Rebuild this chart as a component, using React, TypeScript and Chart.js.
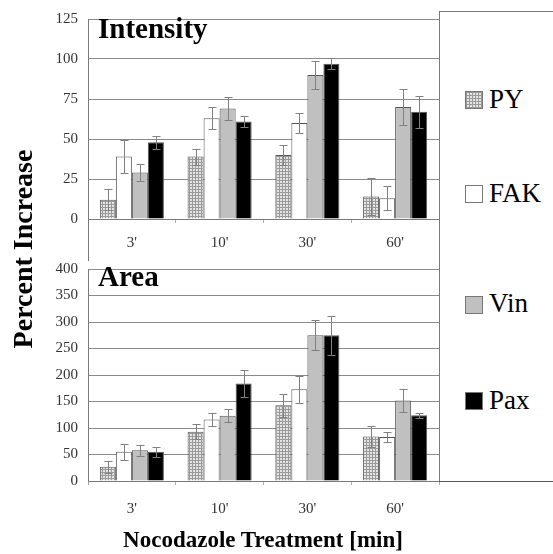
import React, { useEffect, useRef } from "react";
import { Chart, registerables } from "chart.js";

Chart.register(...registerables);

const categories = ["3'", "10'", "30'", "60'"];
const seriesNames = ["PY", "FAK", "Vin", "Pax"];

const intensityPY = [12, 39, 40, 14];
const intensityFAK = [39, 63, 60, 13];
const intensityVin = [29, 69, 90, 70];
const intensityPax = [48, 61, 97, 67];
const intensityPYErr = [6.5, 5, 6, 11.5];
const intensityFAKErr = [10.5, 7, 6, 7.5];
const intensityVinErr = [5.5, 7, 8.5, 11.5];
const intensityPaxErr = [4, 3.5, 3.5, 10];

const areaPY = [27, 93, 143, 84];
const areaFAK = [55, 116, 173, 83];
const areaVin = [58, 123, 275, 152];
const areaPax = [55, 184, 275, 124];
const areaPYErr = [11, 14, 22, 20];
const areaFAKErr = [15, 13, 25, 10];
const areaVinErr = [10, 12, 28, 22];
const areaPaxErr = [9.5, 26, 37, 5];

const intensityMax = 125;
const intensityStep = 25;
const areaMax = 400;
const areaStep = 50;

const SERIF = "'Liberation Serif', 'Times New Roman', Tinos, serif";
const LINE = "#7a7a7a";

function makePattern(): CanvasPattern | string {
  const c = document.createElement("canvas");
  c.width = 3;
  c.height = 3;
  const g = c.getContext("2d");
  if (!g) return "#cccccc";
  g.fillStyle = "#e4e4e4";
  g.fillRect(0, 0, 3, 3);
  g.fillStyle = "#9a9a9a";
  g.fillRect(0, 0, 3, 1);
  g.fillRect(0, 0, 1, 3);
  return g.createPattern(c, "repeat") || "#cccccc";
}

const errorBars = {
  id: "errorBars",
  afterDatasetsDraw(chart: any) {
    const ctx = chart.ctx;
    const yScale = chart.scales.y;
    ctx.save();
    ctx.strokeStyle = "#808080";
    ctx.lineWidth = 1;
    chart.data.datasets.forEach((ds: any, di: number) => {
      const meta = chart.getDatasetMeta(di);
      meta.data.forEach((bar: any, i: number) => {
        const v = ds.data[i];
        const e = ds.errors[i];
        const x = Math.round(bar.x) + 0.5;
        const yTop = Math.round(yScale.getPixelForValue(v + e)) + 0.5;
        const yBot = Math.round(yScale.getPixelForValue(Math.max(0, v - e))) + 0.5;
        ctx.beginPath();
        ctx.moveTo(x, yTop);
        ctx.lineTo(x, yBot);
        ctx.moveTo(x - 4, yTop);
        ctx.lineTo(x + 4, yTop);
        ctx.moveTo(x - 4, yBot);
        ctx.lineTo(x + 4, yBot);
        ctx.stroke();
      });
    });
    ctx.restore();
  },
};

function buildConfig(
  values: number[][],
  errors: number[][],
  max: number,
  step: number,
  xAxisHeight: number,
  tickPad: number,
  pattern: CanvasPattern | string
): any {
  const fills = [pattern, "#ffffff", "#c0c0c0", "#000000"];
  return {
    type: "bar",
    data: {
      labels: categories,
      datasets: seriesNames.map((n, k) => ({
        label: n,
        data: values[k],
        errors: errors[k],
        backgroundColor: fills[k],
        borderColor: "#555555",
        borderWidth: 1,
        categoryPercentage: 0.73,
        barPercentage: 1,
      })),
    },
    options: {
      animation: false,
      responsive: false,
      maintainAspectRatio: false,
      layout: { padding: { top: 11, right: 6, left: 0, bottom: 0 } },
      plugins: { legend: { display: false }, tooltip: { enabled: false } },
      scales: {
        x: {
          grid: {
            drawOnChartArea: false,
            drawTicks: true,
            tickLength: 4,
            color: "#aaaaaa",
            offset: true,
          },
          border: { display: true, color: LINE },
          ticks: {
            font: { family: SERIF, size: 15 },
            color: "#333333",
            padding: tickPad,
          },
          afterFit: (s: any) => {
            s.height = xAxisHeight;
          },
        },
        y: {
          min: 0,
          max,
          ticks: {
            stepSize: step,
            font: { family: SERIF, size: 15 },
            color: "#333333",
            padding: 10,
          },
          grid: { color: "#8a8a8a", drawTicks: false },
          border: { display: true, color: LINE },
          afterFit: (s: any) => {
            s.width = 88;
          },
        },
      },
    },
    plugins: [errorBars],
  };
}

const abs = (s: React.CSSProperties): React.CSSProperties => ({ position: "absolute", ...s });

export default function App() {
  const topRef = useRef<HTMLCanvasElement>(null);
  const botRef = useRef<HTMLCanvasElement>(null);

  useEffect(() => {
    const pattern = makePattern();
    const c1 = new Chart(
      topRef.current as HTMLCanvasElement,
      buildConfig(
        [intensityPY, intensityFAK, intensityVin, intensityPax],
        [intensityPYErr, intensityFAKErr, intensityVinErr, intensityPaxErr],
        intensityMax,
        intensityStep,
        41,
        11,
        pattern
      )
    );
    const c2 = new Chart(
      botRef.current as HTMLCanvasElement,
      buildConfig(
        [areaPY, areaFAK, areaVin, areaPax],
        [areaPYErr, areaFAKErr, areaVinErr, areaPaxErr],
        areaMax,
        areaStep,
        73,
        15,
        pattern
      )
    );
    return () => {
      c1.destroy();
      c2.destroy();
    };
  }, []);

  const legendItems = [
    { name: "PY", cy: 99.5 },
    { name: "FAK", cy: 193.5 },
    { name: "Vin", cy: 304 },
    { name: "Pax", cy: 400.5 },
  ];
  const swatchStyles: React.CSSProperties[] = [
    {
      backgroundColor: "#e4e4e4",
      backgroundImage:
        "linear-gradient(#9a9a9a 1px, transparent 1px), linear-gradient(90deg, #9a9a9a 1px, transparent 1px)",
      backgroundSize: "3px 3px",
    },
    { backgroundColor: "#ffffff" },
    { backgroundColor: "#c0c0c0" },
    { backgroundColor: "#000000" },
  ];

  return (
    <div
      style={{
        position: "fixed",
        left: 0,
        top: 0,
        width: 553,
        height: 554,
        background: "#ffffff",
        overflow: "hidden",
        fontFamily: SERIF,
      }}
    >
      <canvas ref={topRef} width={445} height={260} style={abs({ left: 0, top: 0, width: 445, height: 260 })} />
      <canvas ref={botRef} width={445} height={304} style={abs({ left: 0, top: 250, width: 445, height: 304 })} />

      {/* frame lines */}
      <div style={abs({ left: 88, top: 219, width: 1, height: 42, background: LINE })} />
      <div style={abs({ left: 439, top: 11, width: 1, height: 471, background: LINE })} />
      <div style={abs({ left: 439, top: 11, width: 114, height: 1, background: LINE })} />
      <div style={abs({ left: 439, top: 481, width: 114, height: 1, background: "#555555" })} />

      {/* panel titles */}
      <div style={abs({ left: 98, top: 14, fontSize: 29, lineHeight: "29px", fontWeight: "bold", color: "#000" })}>
        Intensity
      </div>
      <div style={abs({ left: 98, top: 262, fontSize: 29, lineHeight: "29px", fontWeight: "bold", color: "#000" })}>
        Area
      </div>

      {/* legend */}
      {legendItems.map((it, k) => (
        <React.Fragment key={it.name}>
          <div
            style={abs({
              left: 465,
              top: Math.round(it.cy - 8.5),
              width: 16,
              height: 16,
              border: "1px solid #777777",
              ...swatchStyles[k],
            })}
          />
          <div style={abs({ left: 489, top: it.cy - 13.6, fontSize: 27, lineHeight: "27px", color: "#000" })}>
            {it.name}
          </div>
        </React.Fragment>
      ))}

      {/* axis titles */}
      <div
        style={abs({
          left: 22.5 - 160,
          top: 249 - 15,
          width: 320,
          height: 30,
          lineHeight: "30px",
          textAlign: "center",
          fontSize: 28,
          fontWeight: "bold",
          transform: "rotate(-90deg)",
          color: "#000",
          whiteSpace: "nowrap",
        })}
      >
        Percent Increase
      </div>
      <div
        style={abs({
          left: 263 - 200,
          top: 540 - 13,
          width: 400,
          height: 26,
          lineHeight: "26px",
          textAlign: "center",
          fontSize: 23,
          fontWeight: "bold",
          color: "#000",
          whiteSpace: "nowrap",
        })}
      >
        Nocodazole Treatment [min]
      </div>
    </div>
  );
}
